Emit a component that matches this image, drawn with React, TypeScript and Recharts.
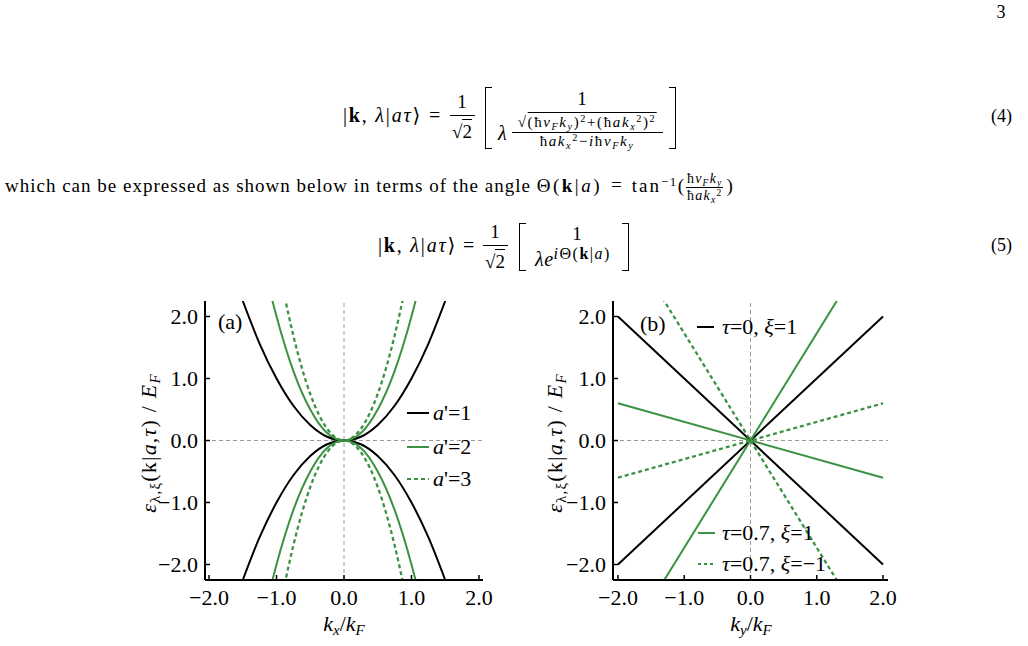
import React from "react";
import { LineChart, Line, XAxis, YAxis, ReferenceLine } from "recharts";

// Panel (a): energy vs kx/kF, upper and lower branch for a' = 1, 2, 3
const kxA1 = [-1.5, -1.25, -1.0, -0.75, -0.5, -0.25, 0, 0.25, 0.5, 0.75, 1.0, 1.25, 1.5];
const eA1Up = [2.25, 1.56, 1.0, 0.56, 0.25, 0.06, 0, 0.06, 0.25, 0.56, 1.0, 1.56, 2.25];
const eA1Down = [-2.25, -1.56, -1.0, -0.56, -0.25, -0.06, 0, -0.06, -0.25, -0.56, -1.0, -1.56, -2.25];
const kxA2 = [-1.07, -1.0, -0.75, -0.5, -0.25, 0, 0.25, 0.5, 0.75, 1.0, 1.07];
const eA2Up = [2.29, 2.0, 1.12, 0.5, 0.12, 0, 0.12, 0.5, 1.12, 2.0, 2.29];
const eA2Down = [-2.29, -2.0, -1.12, -0.5, -0.12, 0, -0.12, -0.5, -1.12, -2.0, -2.29];
const kxA3 = [-0.88, -0.75, -0.5, -0.25, 0, 0.25, 0.5, 0.75, 0.88];
const eA3Up = [2.32, 1.69, 0.75, 0.19, 0, 0.19, 0.75, 1.69, 2.32];
const eA3Down = [-2.32, -1.69, -0.75, -0.19, 0, -0.19, -0.75, -1.69, -2.32];

// Panel (b): energy vs ky/kF, straight lines through the origin
const kyFull = [-2.0, 2.0];
const eTau0Down = [2.0, -2.0];
const eTau0Up = [-2.0, 2.0];
const eShallowSolid = [0.6, -0.6];
const eShallowDash = [-0.6, 0.6];
const kySteep = [-1.33, 1.33];
const eSteepSolid = [-2.3, 2.3];
const eSteepDash = [2.3, -2.3];

const axisTicks = [-2, -1, 0, 1, 2];

const serif = '"Liberation Serif", "DejaVu Serif", serif';
const green = "#3b9243";
const FS = 22;

function pts(xs: number[], ys: number[]) {
  return xs.map((x, i) => ({ x, y: ys[i] }));
}

function fmt(v: number) {
  if (v < 0) return `\u2212${Math.abs(v).toFixed(1)}`;
  return Math.abs(v).toFixed(1);
}

function axes(xDom: [number, number], yDom: [number, number]) {
  const tick = { fontSize: FS, fill: "#000", fontFamily: serif };
  const line = { stroke: "#000", strokeWidth: 2 };
  return [
    <XAxis
      key="xb"
      dataKey="x"
      type="number"
      domain={xDom}
      allowDataOverflow
      ticks={axisTicks}
      interval={0}
      tickFormatter={fmt}
      tick={tick}
      tickSize={-5}
      tickMargin={14}
      tickLine={{ stroke: "#000", strokeWidth: 1.5 }}
      axisLine={line}
      height={50}
    />,
    <YAxis
      key="yl"
      dataKey="y"
      type="number"
      domain={yDom}
      allowDataOverflow
      ticks={axisTicks}
      interval={0}
      tickFormatter={fmt}
      tick={tick}
      tickSize={-5}
      tickMargin={12}
      tickLine={{ stroke: "#000", strokeWidth: 1.5 }}
      axisLine={line}
      width={75}
    />,
    <XAxis
      key="xt"
      xAxisId="top"
      orientation="top"
      type="number"
      domain={xDom}
      allowDataOverflow
      tick={false}
      tickLine={false}
      axisLine={line}
      height={0}
    />,
    <YAxis
      key="yr"
      yAxisId="right"
      orientation="right"
      type="number"
      domain={yDom}
      allowDataOverflow
      tick={false}
      tickLine={false}
      axisLine={line}
      width={0}
    />,
    <ReferenceLine key="rx" x={0} stroke="#9a9a9a" strokeDasharray="4 3" strokeWidth={1} />,
    <ReferenceLine key="ry" y={0} stroke="#9a9a9a" strokeDasharray="4 3" strokeWidth={1} />,
  ];
}

function T({ x, y, size = 18, anchor = "left", children, style }: any) {
  const tx = anchor === "center" ? "-50%" : anchor === "right" ? "-100%" : "0";
  return (
    <div
      style={{
        position: "absolute",
        left: x,
        top: y - size / 2,
        fontSize: size,
        lineHeight: `${size}px`,
        whiteSpace: "nowrap",
        transform: `translateX(${tx})`,
        fontFamily: serif,
        ...style,
      }}
    >
      {children}
    </div>
  );
}

function Bracket({ x, top, h, side }: { x: number; top: number; h: number; side: "l" | "r" }) {
  const b = "1.3px solid #000";
  return (
    <div
      style={{
        position: "absolute",
        left: x,
        top,
        width: 6,
        height: h,
        borderTop: b,
        borderBottom: b,
        borderLeft: side === "l" ? b : undefined,
        borderRight: side === "r" ? b : undefined,
      }}
    />
  );
}

function HLine({ x1, x2, y }: { x1: number; x2: number; y: number }) {
  return <div style={{ position: "absolute", left: x1, top: y, width: x2 - x1, borderTop: "1px solid #000" }} />;
}

function Sqrt({ children }: any) {
  return (
    <span>
      √<span style={{ borderTop: "1px solid #000", paddingTop: 1 }}>{children}</span>
    </span>
  );
}

function Ket() {
  return (
    <span style={{ letterSpacing: 1.8 }}>
      |<b>k</b>, <i>λ</i>|<i>aτ</i>⟩
    </span>
  );
}

function Sample({ x, y, w, color, dash }: { x: number; y: number; w: number; color: string; dash?: string }) {
  return (
    <svg style={{ position: "absolute", left: x, top: y - 3 }} width={w} height={6}>
      <line x1={0} y1={3} x2={w} y2={3} stroke={color} strokeWidth={2} strokeDasharray={dash} />
    </svg>
  );
}

const sub = { fontSize: "0.68em", verticalAlign: "-0.3em", lineHeight: 0 } as const;
const sup = { fontSize: "0.68em", verticalAlign: "0.45em", lineHeight: 0 } as const;

function YLabel({ x, y }: { x: number; y: number }) {
  return (
    <div
      style={{
        position: "absolute",
        left: x,
        top: y,
        transform: "translate(-50%,-50%) rotate(-90deg)",
        fontSize: FS,
        lineHeight: `${FS}px`,
        whiteSpace: "nowrap",
        fontFamily: serif,
        letterSpacing: 1.2,
      }}
    >
      <i>ε</i>
      <span style={sub}>λ,ξ</span>(k|<i>a</i>,<i>τ</i>) / <i>E</i>
      <span style={sub}>
        <i>F</i>
      </span>
    </div>
  );
}

function XLabel({ x, y, s }: { x: number; y: number; s: string }) {
  return (
    <T x={x} y={y} size={FS} anchor="center">
      <i>k</i>
      <span style={sub}>
        <i>{s}</i>
      </span>
      /<i>k</i>
      <span style={sub}>
        <i>F</i>
      </span>
    </T>
  );
}

export default function App() {
  const xDomA: [number, number] = [-2.06, 2.06];
  const xDomB: [number, number] = [-2.075, 2.075];
  const yDom: [number, number] = [-2.25, 2.25];
  const lw = 2;

  return (
    <div style={{ position: "absolute", left: 0, top: 0, width: 1028, height: 646, background: "#fff", fontFamily: serif, color: "#000" }}>
      {/* page number */}
      <T x={1001} y={12} size={18} anchor="center">3</T>

      {/* equation (4) */}
      <T x={343} y={115} size={20}>
        <Ket />
      </T>
      <T x={429} y={115} size={20}>=</T>
      <T x={462} y={101} size={19} anchor="center">1</T>
      <HLine x1={450} x2={475} y={115} />
      <T x={462} y={131} size={19} anchor="center">
        <Sqrt>2</Sqrt>
      </T>
      <Bracket x={485} top={87} h={60} side="l" />
      <T x={582} y={98} size={19} anchor="center">1</T>
      <T x={498} y={133} size={20}>
        <i>λ</i>
      </T>
      <T x={587} y={122} size={15} anchor="center" style={{ letterSpacing: 1.6 }}>
        <Sqrt>
          (ħ<i>v</i>
          <span style={sub}><i>F</i></span>
          <i>k</i>
          <span style={sub}><i>y</i></span>)<span style={sup}>2</span>+(ħ<i>ak</i>
          <span style={sub}><i>x</i></span>
          <span style={sup}>2</span>)<span style={sup}>2</span>
        </Sqrt>
      </T>
      <HLine x1={512} x2={663} y={132} />
      <T x={587} y={141} size={15} anchor="center" style={{ letterSpacing: 1.6 }}>
        ħ<i>ak</i>
        <span style={sub}><i>x</i></span>
        <span style={sup}>2</span>−<i>i</i>ħ<i>v</i>
        <span style={sub}><i>F</i></span>
        <i>k</i>
        <span style={sub}><i>y</i></span>
      </T>
      <Bracket x={669} top={87} h={60} side="r" />
      <T x={1012} y={116} size={18} anchor="right">(4)</T>

      {/* text line */}
      <T x={5} y={180} size={19} style={{ letterSpacing: 1 }}>
        which can be expressed as shown below in terms of the angle{" "}
        <span style={{ letterSpacing: 2.5 }}>
          Θ(<b>k</b>|<i>a</i>)
        </span>
        <span style={{ margin: "0 9px" }}>=</span>
        <span style={{ letterSpacing: 2 }}>tan</span>
        <span style={{ ...sup, letterSpacing: 1.5 }}>−1</span>(
        <span
          style={{
            display: "inline-flex",
            flexDirection: "column",
            alignItems: "center",
            verticalAlign: "middle",
            fontSize: 14,
            lineHeight: "16px",
            letterSpacing: 1.2,
            margin: "0 3px 0 1px",
          }}
        >
          <span style={{ borderBottom: "1px solid #000", padding: "0 1px" }}>
            ħ<i>v</i>
            <span style={sub}><i>F</i></span>
            <i>k</i>
            <span style={sub}><i>y</i></span>
          </span>
          <span>
            ħ<i>ak</i>
            <span style={sub}><i>x</i></span>
            <span style={sup}>2</span>
          </span>
        </span>
        )
      </T>

      {/* equation (5) */}
      <T x={378} y={245} size={20}>
        <Ket />
      </T>
      <T x={463} y={245} size={20}>=</T>
      <T x={495} y={231} size={19} anchor="center">1</T>
      <HLine x1={483} x2={508} y={245} />
      <T x={495} y={261} size={19} anchor="center">
        <Sqrt>2</Sqrt>
      </T>
      <Bracket x={519} top={223} h={46} side="l" />
      <T x={577} y={233} size={19} anchor="center">1</T>
      <T x={535} y={259} size={20} style={{ letterSpacing: 0.5 }}>
        <i>λe</i>
        <span style={{ ...sup, fontSize: 16, letterSpacing: 1.5 }}>
          <i>i</i>Θ(<b>k</b>|<i>a</i>)
        </span>
      </T>
      <Bracket x={622} top={223} h={46} side="r" />
      <T x={1012} y={245} size={18} anchor="right">(5)</T>

      {/* panel (a) */}
      <div style={{ position: "absolute", left: 130, top: 295 }}>
        <LineChart width={370} height={335} margin={{ top: 6, right: 17, bottom: 0, left: 0 }}>
          {axes(xDomA, yDom)}
          <Line data={pts(kxA1, eA1Up)} dataKey="y" type="monotone" stroke="#000" strokeWidth={lw} dot={false} isAnimationActive={false} />
          <Line data={pts(kxA1, eA1Down)} dataKey="y" type="monotone" stroke="#000" strokeWidth={lw} dot={false} isAnimationActive={false} />
          <Line data={pts(kxA2, eA2Up)} dataKey="y" type="monotone" stroke={green} strokeWidth={lw} dot={false} isAnimationActive={false} />
          <Line data={pts(kxA2, eA2Down)} dataKey="y" type="monotone" stroke={green} strokeWidth={lw} dot={false} isAnimationActive={false} />
          <Line data={pts(kxA3, eA3Up)} dataKey="y" type="monotone" stroke={green} strokeWidth={lw + 0.3} strokeDasharray="4 3" dot={false} isAnimationActive={false} />
          <Line data={pts(kxA3, eA3Down)} dataKey="y" type="monotone" stroke={green} strokeWidth={lw + 0.3} strokeDasharray="4 3" dot={false} isAnimationActive={false} />
        </LineChart>
      </div>
      <T x={218} y={322} size={FS}>(a)</T>
      <Sample x={407} y={413} w={22} color="#000" />
      <T x={433} y={413} size={FS}>
        <i>a</i>'=1
      </T>
      <Sample x={407} y={447} w={22} color={green} />
      <T x={433} y={447} size={FS}>
        <i>a</i>'=2
      </T>
      <Sample x={407} y={479} w={22} color={green} dash="4 3" />
      <T x={433} y={479} size={FS}>
        <i>a</i>'=3
      </T>
      <YLabel x={149} y={443} />
      <XLabel x={344} y={624} s="x" />

      {/* panel (b) */}
      <div style={{ position: "absolute", left: 538, top: 295 }}>
        <LineChart width={370} height={335} margin={{ top: 6, right: 20, bottom: 0, left: 0 }}>
          {axes(xDomB, yDom)}
          <Line data={pts(kyFull, eTau0Down)} dataKey="y" type="linear" stroke="#000" strokeWidth={lw} dot={false} isAnimationActive={false} />
          <Line data={pts(kyFull, eTau0Up)} dataKey="y" type="linear" stroke="#000" strokeWidth={lw} dot={false} isAnimationActive={false} />
          <Line data={pts(kyFull, eShallowSolid)} dataKey="y" type="linear" stroke={green} strokeWidth={lw} dot={false} isAnimationActive={false} />
          <Line data={pts(kySteep, eSteepSolid)} dataKey="y" type="linear" stroke={green} strokeWidth={lw} dot={false} isAnimationActive={false} />
          <Line data={pts(kyFull, eShallowDash)} dataKey="y" type="linear" stroke={green} strokeWidth={lw + 0.3} strokeDasharray="4 3" dot={false} isAnimationActive={false} />
          <Line data={pts(kySteep, eSteepDash)} dataKey="y" type="linear" stroke={green} strokeWidth={lw + 0.3} strokeDasharray="4 3" dot={false} isAnimationActive={false} />
        </LineChart>
      </div>
      <T x={640} y={324} size={FS}>(b)</T>
      <Sample x={697} y={327} w={17} color="#000" />
      <T x={722} y={327} size={FS}>
        <i>τ</i>=0, <i>ξ</i>=1
      </T>
      <Sample x={698} y={533} w={17} color={green} />
      <T x={722} y={533} size={FS}>
        <i>τ</i>=0.7, <i>ξ</i>=1
      </T>
      <Sample x={698} y={564} w={17} color={green} dash="3 3" />
      <T x={722} y={564} size={FS}>
        <i>τ</i>=0.7, <i>ξ</i>=−1
      </T>
      <YLabel x={555} y={443} />
      <XLabel x={751} y={624} s="y" />
    </div>
  );
}
